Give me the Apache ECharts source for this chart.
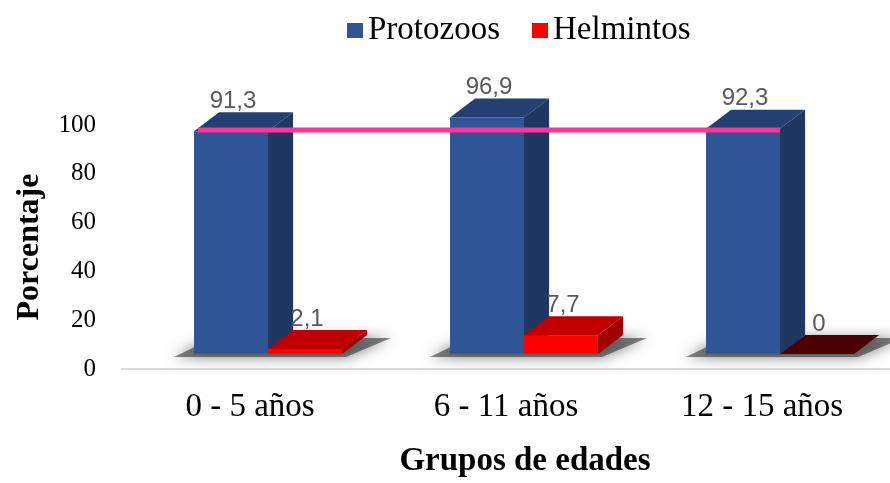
<!DOCTYPE html>
<html>
<head>
<meta charset="utf-8">
<script src="https://cdn.jsdelivr.net/npm/echarts@6/dist/echarts.min.js"></script>
<style>
  html, body { margin: 0; padding: 0; background: #ffffff; }
  #chart { width: 890px; height: 483px; }
</style>
</head>
<body>
<div id="chart"></div>
<script>
// ---- data ----
var categories = ['0 - 5 años', '6 - 11 años', '12 - 15 años'];
var protozoos = [91.3, 96.9, 92.3];
var helmintos = [2.1, 7.7, 0];
var referenceLine = [98, 98, 98];
var yTicks = [0, 20, 40, 60, 80, 100];

// ---- drawing helpers ----
var SERIF = '"Liberation Serif", "Times New Roman", serif';
var SANS = '"Liberation Sans", Arial, sans-serif';
var SHIFT_X = 18;   // perspective shift of the bars relative to the category centre
var SHIFT_Y = -15;
var DEPTH_Y = -19;

function fmt(v) { return String(v).replace('.', ','); }

function geom(api, idx, value, slot) {
  var base = api.coord([idx, 0]);
  var top = api.coord([idx, value]);
  var bw = api.size([1, 0])[0];
  var fw = bw * 0.289;
  var dx = bw * 0.098;
  var anchor = base[0] + SHIFT_X;
  var x0 = slot === 0 ? anchor - fw : anchor;
  var x1 = x0 + fw;
  return { x0: x0, x1: x1, t: top[1] + SHIFT_Y, b: base[1] + SHIFT_Y, dx: dx, dy: DEPTH_Y, fw: fw, anchor: anchor };
}

function bar3d(g, colors, label, zeroTop) {
  var t = g.t, b = g.b, x0 = g.x0, x1 = g.x1, dx = g.dx, dy = g.dy;
  var children = [];
  if (b - t > 0.5) {
    children.push({ type: 'polygon', shape: { points: [[x1, t], [x1 + dx, t + dy], [x1 + dx, b + dy], [x1, b]] }, style: { fill: colors.side } });
    children.push({ type: 'rect', shape: { x: x0, y: t, width: x1 - x0, height: b - t }, style: { fill: colors.front } });
  }
  children.push({ type: 'polygon', shape: { points: [[x0, t], [x1, t], [x1 + dx, t + dy], [x0 + dx, t + dy]] }, style: { fill: (b - t > 0.5) ? colors.top : zeroTop } });
  children.push({ type: 'text', style: { text: label, x: (x0 + x1) / 2 + 2, y: t + dy - 11, align: 'center', verticalAlign: 'middle', fill: '#595959', font: '24px ' + SANS } });
  return { type: 'group', children: children };
}

var option = {
  animation: false,
  backgroundColor: '#ffffff',
  legend: {
    data: ['Protozoos', 'Helmintos'],
    left: 342,
    top: 9,
    icon: 'rect',
    itemWidth: 16,
    itemHeight: 15,
    itemGap: 32,
    textStyle: { fontFamily: SERIF, fontSize: 33, color: '#000000', padding: [0, 0, 0, 0] }
  },
  grid: { left: 122, right: 0, top: 125, bottom: 110 },
  xAxis: {
    type: 'category',
    data: categories,
    boundaryGap: true,
    axisLine: { show: true, lineStyle: { color: '#D9D9D9', width: 2 } },
    axisTick: { show: false },
    axisLabel: { fontFamily: SERIF, fontSize: 33, color: '#000000', margin: 22 },
    name: 'Grupos de edades',
    nameLocation: 'middle',
    nameGap: 76,
    nameTextStyle: { fontFamily: SERIF, fontSize: 33, fontWeight: 'bold', color: '#000000', padding: [0, 0, 0, 38] }
  },
  yAxis: {
    type: 'value',
    min: yTicks[0],
    max: yTicks[yTicks.length - 1],
    interval: yTicks[1] - yTicks[0],
    splitLine: { show: false },
    axisLine: { show: false },
    axisTick: { show: false },
    axisLabel: { fontFamily: SERIF, fontSize: 25, color: '#000000', margin: 26 },
    name: 'Porcentaje',
    nameLocation: 'middle',
    nameGap: 76,
    nameTextStyle: { fontFamily: SERIF, fontSize: 32, fontWeight: 'bold', color: '#000000' }
  },
  series: [
    {
      // soft floor shadow under each group
      type: 'custom',
      name: 'shadow',
      z: 1,
      silent: true,
      data: categories.map(function (c, i) { return [i, 0]; }),
      renderItem: function (params, api) {
        var i = api.value(0);
        var g = geom(api, i, 0, 0);
        var gx0 = g.x0, gx1 = g.x0 + 2 * g.fw;
        var b = g.b + 3;
        return {
          type: 'polygon',
          shape: { points: [[gx0 - 20, b], [gx1 + 4, b], [gx1 + g.dx + 24, b + g.dy], [gx0 + g.dx - 6, b + g.dy]] },
          style: { fill: 'rgba(50,50,50,0.6)', shadowBlur: 14, shadowColor: 'rgba(0,0,0,0.85)' }
        };
      }
    },
    {
      type: 'custom',
      name: 'Protozoos',
      z: 2,
      itemStyle: { color: '#2F5597' },
      data: protozoos.map(function (v, i) { return [i, v]; }),
      encode: { x: 0, y: 1 },
      renderItem: function (params, api) {
        var i = api.value(0), v = api.value(1);
        var g = geom(api, i, v, 0);
        return bar3d(g, { front: '#2F5597', side: '#1F3763', top: '#243F72' }, fmt(v), '#1F3763');
      }
    },
    {
      type: 'custom',
      name: 'Helmintos',
      z: 3,
      itemStyle: { color: '#FF0000' },
      data: helmintos.map(function (v, i) { return [i, v]; }),
      encode: { x: 0, y: 1 },
      renderItem: function (params, api) {
        var i = api.value(0), v = api.value(1);
        var g = geom(api, i, v, 1);
        return bar3d(g, { front: '#FF0000', side: '#A00000', top: '#C00000' }, fmt(v), '#4A0000');
      }
    },
    {
      // pink reference line spanning the blue bars
      type: 'custom',
      name: 'line',
      z: 4,
      silent: true,
      data: referenceLine.map(function (v, i) { return [i, v]; }),
      encode: { x: 0, y: 1 },
      renderItem: function (params, api) {
        var i = api.value(0), v = api.value(1);
        var n = categories.length;
        var g = geom(api, i, 0, 0);
        var y = api.coord([i, v])[1];
        var xs = g.x0 + 4;
        var xe;
        if (i < n - 1) {
          xe = geom(api, i + 1, 0, 0).x0 + 4;
        } else {
          xe = g.anchor;
        }
        return { type: 'line', shape: { x1: xs, y1: y, x2: xe, y2: y }, style: { stroke: '#FF3399', lineWidth: 5 } };
      }
    }
  ]
};

var chart = echarts.init(document.getElementById('chart'), null, { renderer: 'canvas' });
chart.setOption(option);
</script>
</body>
</html>
